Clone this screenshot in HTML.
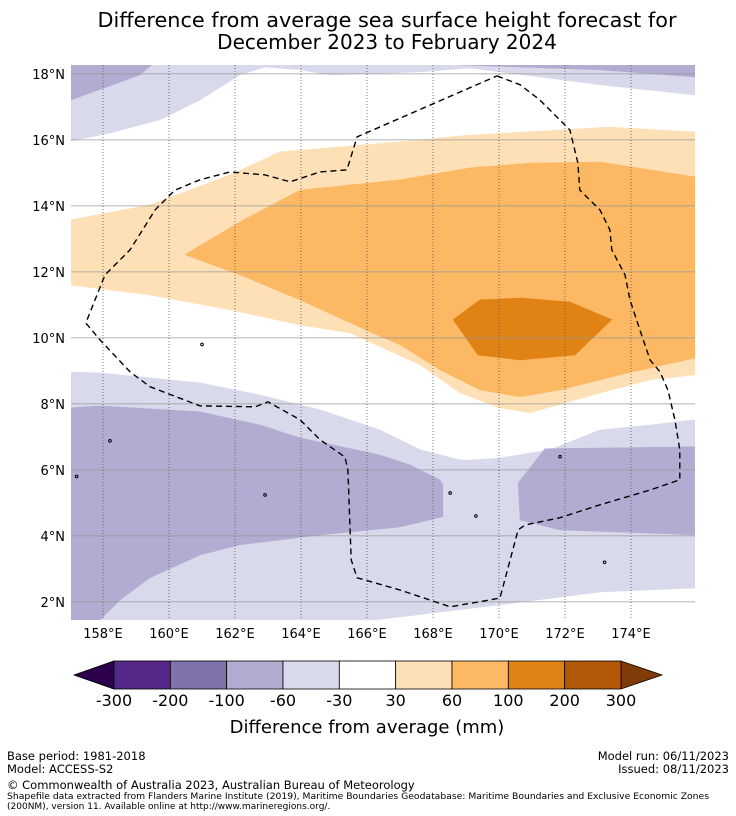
<!DOCTYPE html>
<html><head><meta charset="utf-8"><style>
body{margin:0;background:#fff;width:736px;height:816px;overflow:hidden;font-family:"DejaVu Sans","Liberation Sans",sans-serif}
svg{position:absolute;left:0;top:0}
</style></head><body>
<svg width="736" height="816" id="svg" xmlns="http://www.w3.org/2000/svg" font-family="DejaVu Sans, Liberation Sans, sans-serif">
<text x="387" y="27" text-anchor="middle" font-size="20" textLength="579" lengthAdjust="spacingAndGlyphs">Difference from average sea surface height forecast for</text>
<text x="387" y="49" text-anchor="middle" font-size="20">December 2023 to February 2024</text>
<g id="map"></g>
<g id="cbar"></g>
<text x="367" y="733" text-anchor="middle" font-size="18">Difference from average (mm)</text>
<g font-size="11.5">
<text x="7" y="760">Base period: 1981-2018</text>
<text x="7" y="773">Model: ACCESS-S2</text>
<text x="729" y="760" text-anchor="end">Model run: 06/11/2023</text>
<text x="729" y="773" text-anchor="end">Issued: 08/11/2023</text>
<text x="7" y="789">© Commonwealth of Australia 2023, Australian Bureau of Meteorology</text>
<text x="7" y="799" font-size="9" textLength="702" lengthAdjust="spacingAndGlyphs">Shapefile data extracted from Flanders Marine Institute (2019), Maritime Boundaries Geodatabase: Maritime Boundaries and Exclusive Economic Zones</text>
<text x="7" y="809" font-size="9">(200NM), version 11. Available online at http://www.marineregions.org/.</text>
</g>
</svg>
<script>
const lonTicks=[158,160,162,164,166,168,170,172,174];
const latTicks=[2,4,6,8,10,12,14,16,18];
const levels=[-300,-200,-100,-60,-30,30,60,100,200,300];
const levelColors=["#542788","#8073ac","#b2abd2","#d8daeb","#ffffff","#fee0b6","#fdb863","#e08214","#b35806"];
const lonMin=157.03,lonMax=175.94,latMin=1.45,latMax=18.27;
const lightPurpleTop=[[157.03,18.27],[175.94,18.27],[175.94,17.36],[173.06,17.67],[169.12,18.18],[167.61,18.06],[164.88,17.97],[163.97,18.12],[162.91,18.21],[162.15,17.97],[160.94,17.21],[159.73,16.61],[158.21,16.21],[157.03,15.97]];
const medPurpleTopLeft=[[157.03,18.27],[159.48,18.27],[159.12,17.97],[157.03,17.21]];
const medPurpleTopRight=[[168.85,18.27],[175.94,18.27],[175.94,17.91],[173.06,18.12]];
const lightPurpleBottom=[[157.03,8.97],[157.91,8.94],[160.94,8.64],[162.76,8.27],[164.58,7.82],[166.39,7.21],[167.61,6.61],[168.82,6.3],[169.15,6.3],[170.03,6.36],[171.55,6.61],[173.06,7.21],[174.58,7.36],[175.94,7.52],[175.94,2.42],[173.06,2.3],[170.03,1.91],[166.24,1.45],[157.03,1.45]];
const medPurpleLeft=[[157.03,7.88],[157.91,7.94],[160.94,7.76],[162.76,7.36],[163.97,6.97],[166.39,6.45],[167.3,6.15],[168.21,5.7],[168.3,5.55],[168.3,4.58],[167.0,4.27],[164.58,4.03],[162.15,3.73],[160.94,3.42],[159.42,2.73],[158.52,2.06],[157.91,1.45],[157.03,1.45]];
const medPurpleRight=[[175.94,6.7],[171.39,6.64],[170.58,5.61],[170.64,4.48],[171.85,4.18],[175.94,4.03]];
const lightOrange=[[157.03,13.58],[159.42,14.03],[161.85,14.94],[163.36,15.64],[164.88,15.76],[167.61,16.0],[169.12,16.15],[171.85,16.3],[173.36,16.39],[175.94,16.24],[175.94,8.88],[174.58,8.73],[173.06,8.33],[170.94,7.73],[170.03,7.88],[168.82,8.33],[167.61,9.18],[165.48,10.15],[163.97,10.39],[161.85,10.85],[159.42,11.3],[157.03,11.6]];
const orange=[[160.48,12.52],[162.15,13.52],[163.97,14.48],[167.0,14.79],[169.12,15.15],[170.94,15.3],[173.06,15.33],[175.94,14.88],[175.94,9.39],[173.67,8.88],[171.85,8.42],[170.64,8.21],[169.42,8.42],[168.21,9.03],[167.0,9.79],[166.09,10.18],[163.97,11.15],[162.15,11.91]];
const darkOrange=[[168.61,10.55],[169.42,11.15],[170.64,11.21],[172.15,11.09],[173.42,10.55],[172.3,9.48],[170.64,9.33],[169.36,9.48]];
const eez=[[169.94,17.94],[170.64,17.67],[171.24,17.21],[172.15,16.3],[172.39,15.3],[172.45,14.48],[173.06,13.88],[173.36,13.27],[173.42,12.67],[173.82,11.91],[173.97,11.15],[174.27,10.24],[174.58,9.33],[174.88,8.97],[175.12,8.42],[175.33,7.52],[175.48,6.61],[175.48,5.7],[174.58,5.39],[173.06,4.94],[171.85,4.55],[170.79,4.33],[170.58,4.18],[170.03,2.12],[169.73,2.06],[168.52,1.85],[167.0,2.36],[165.7,2.73],[165.52,3.27],[165.42,6.0],[165.33,6.39],[164.58,6.91],[163.97,7.52],[163.0,8.06],[162.61,7.91],[160.94,7.94],[159.42,8.52],[158.82,8.97],[157.91,9.94],[157.48,10.45],[158.06,11.91],[158.82,12.67],[159.58,13.88],[160.18,14.48],[160.94,14.79],[161.85,15.03],[162.91,14.94],[163.67,14.73],[164.58,15.03],[165.39,15.09],[165.7,16.09],[169.94,17.94]];
const islands=[[158.21,6.88],[162.91,5.24],[157.2,5.8],[161.0,9.8],[168.52,5.3],[169.3,4.6],[171.85,6.4],[173.2,3.2]];
const X0=71,X1=695,Y0=65,Y1=620;
function xs(lon){return X0+(lon-lonMin)/(lonMax-lonMin)*(X1-X0);}
function ys(lat){return Y0+(latMax-lat)/(latMax-latMin)*(Y1-Y0);}
const NS="http://www.w3.org/2000/svg";
const map=document.getElementById('map');
function mk(tag,attrs,parent){const e=document.createElementNS(NS,tag);for(const k in attrs)e.setAttribute(k,attrs[k]);parent.appendChild(e);return e;}
const clip=mk('clipPath',{id:'mc'},map);mk('rect',{x:X0,y:Y0,width:X1-X0,height:Y1-Y0},clip);
const g=mk('g',{'clip-path':'url(#mc)'},map);
const layers=[[lightPurpleTop,"#d8daeb","contour-light-purple-north"],[medPurpleTopLeft,"#b2abd2","contour-purple-northwest"],[medPurpleTopRight,"#b2abd2","contour-purple-northeast"],[lightPurpleBottom,"#d8daeb","contour-light-purple-south"],[medPurpleLeft,"#b2abd2","contour-purple-southwest"],[medPurpleRight,"#b2abd2","contour-purple-southeast"],[lightOrange,"#fee0b6","contour-light-orange"],[orange,"#fdb863","contour-orange"],[darkOrange,"#e08214","contour-dark-orange"]];
function pts(a){return a.map(p=>xs(p[0]).toFixed(1)+','+ys(p[1]).toFixed(1)).join(' ');}
layers.forEach(L=>{const p=mk('polygon',{points:pts(L[0]),fill:L[1],stroke:L[1],'stroke-width':0.5},g);

});
latTicks.forEach(t=>{const l=mk('line',{x1:X0,x2:X1,y1:ys(t),y2:ys(t),stroke:'#999','stroke-width':0.8},g);


const tx=mk('text',{x:X0-6,y:ys(t)+5,'text-anchor':'end','font-size':13},map);tx.textContent=t+'°N';

});
lonTicks.forEach(t=>{const l=mk('line',{x1:xs(t),x2:xs(t),y1:Y0,y2:Y1,stroke:'#555','stroke-width':0.8,'stroke-dasharray':'1,2'},g);


const tx=mk('text',{x:xs(t),y:Y1+18,'text-anchor':'middle','font-size':13},map);tx.textContent=t+'°E';

});
const ez=mk('polyline',{points:pts(eez),fill:'none',stroke:'#000','stroke-width':1.4,'stroke-dasharray':'6,4'},g);


islands.forEach(p=>{const c=mk('circle',{cx:xs(p[0]),cy:ys(p[1]),r:1.3,fill:'none',stroke:'#000','stroke-width':1},g);

});
const cb=document.getElementById('cbar');
const cx0=114,cx1=621,cy0=661,cy1=689,bw=(cx1-cx0)/levelColors.length;
const lt=mk('polygon',{points:`${cx0},${cy0} ${cx0},${cy1} 74,675`,fill:'#2d004b',stroke:'#000','stroke-width':0.8},cb);


const rt=mk('polygon',{points:`${cx1},${cy0} ${cx1},${cy1} 662,675`,fill:'#7f3b08',stroke:'#000','stroke-width':0.8},cb);


levelColors.forEach((c,i)=>{const r=mk('rect',{x:cx0+i*bw,y:cy0,width:bw,height:cy1-cy0,fill:c,stroke:'#000','stroke-width':0.8},cb);

});
levels.forEach((v,i)=>{const t=mk('text',{x:cx0+i*bw,y:706,'text-anchor':'middle','font-size':16},cb);t.textContent=v;

});
</script>
</body></html>
